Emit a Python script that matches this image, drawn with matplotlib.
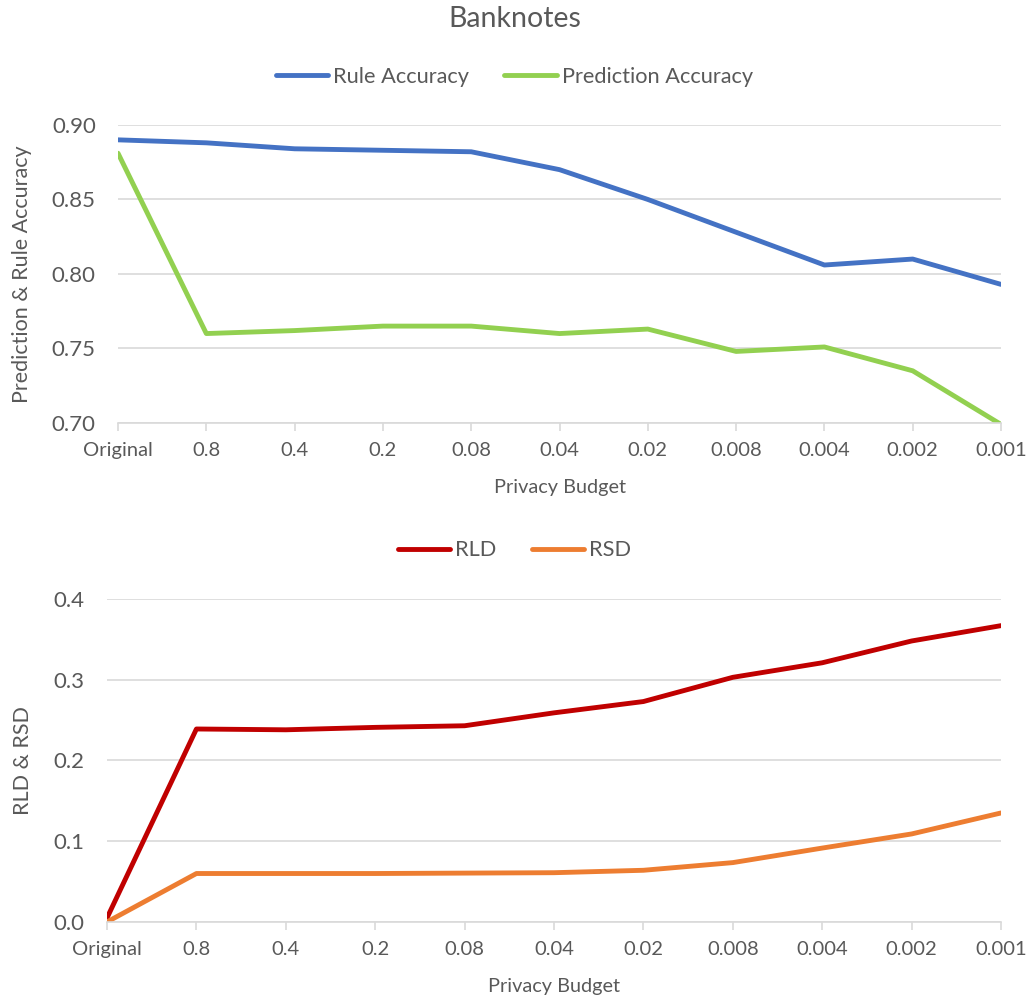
import matplotlib.pyplot as plt

plt.rcParams['font.family'] = ['Lato', 'DejaVu Sans']
plt.rcParams['text.color'] = '#595959'

budgets = ['Original', '0.8', '0.4', '0.2', '0.08', '0.04', '0.02', '0.008', '0.004', '0.002', '0.001']
rule_acc = [0.890, 0.888, 0.884, 0.883, 0.882, 0.870, 0.850, 0.828, 0.806, 0.810, 0.793]
pred_acc = [0.881, 0.760, 0.762, 0.765, 0.765, 0.760, 0.763, 0.748, 0.751, 0.735, 0.699]
rld = [0.005, 0.239, 0.238, 0.241, 0.243, 0.259, 0.273, 0.303, 0.321, 0.348, 0.367]
rsd = [0.000, 0.060, 0.060, 0.060, 0.0605, 0.061, 0.064, 0.0735, 0.0915, 0.109, 0.135]

grey = '#595959'
grid_c = '#d9d9d9'


def style(ax, ylo, yhi, step, fmt):
    x = range(len(budgets))
    ax.set_xlim(0, len(budgets) - 1)
    ax.set_ylim(ylo, yhi)
    ax.set_xticks(list(x))
    ax.set_xticklabels(budgets, fontsize=14.5, color=grey)
    ticks = []
    v = ylo
    while v <= yhi + 1e-9:
        ticks.append(round(v, 4))
        v += step
    ax.set_yticks(ticks)
    ax.set_yticklabels([fmt.format(t) for t in ticks], fontsize=16, color=grey)
    ax.grid(axis='y', color=grid_c, lw=1.2)
    ax.set_axisbelow(True)
    for s in ['top', 'right', 'left']:
        ax.spines[s].set_visible(False)
    ax.spines['bottom'].set_color(grid_c)
    ax.spines['bottom'].set_linewidth(1.2)
    ax.tick_params(axis='y', length=0, pad=16)
    ax.tick_params(axis='x', length=6, color=grid_c, width=1.2, pad=8)
    ax.set_xlabel('Privacy Budget', fontsize=14.3, color=grey, labelpad=14)


fig = plt.figure(figsize=(10.29, 9.98), dpi=100)

ax1 = fig.add_axes([0.1147, 0.5762, 0.8581, 0.2986])
x = range(len(budgets))
ax1.plot(x, rule_acc, color='#4472C4', lw=3.5, label='Rule Accuracy', solid_capstyle='round')
ax1.plot(x, pred_acc, color='#92D050', lw=3.5, label='Prediction Accuracy', solid_capstyle='round')
style(ax1, 0.70, 0.90, 0.05, '{:.2f}')
ax1.set_ylabel('Prediction & Rule Accuracy', fontsize=15.5, color=grey)
ax1.yaxis.set_label_coords(-0.0974, 0.5)
ax1.legend(loc='center', bbox_to_anchor=(0.5, 0.923), bbox_transform=fig.transFigure,
           ncol=2, frameon=False, fontsize=15.7, handlelength=2.4, columnspacing=1.6, handletextpad=0.25)
fig.text(0.5, 0.981, 'Banknotes', ha='center', va='center', fontsize=20.5, color=grey)

ax2 = fig.add_axes([0.104, 0.0762, 0.8688, 0.3236])
ax2.plot(x, rld, color='#C00000', lw=3.5, label='RLD', solid_capstyle='round')
ax2.plot(x, rsd, color='#ED7D31', lw=3.5, label='RSD', solid_capstyle='round')
style(ax2, 0.0, 0.4, 0.1, '{:.1f}')
ax2.set_ylabel('RLD & RSD', fontsize=15.5, color=grey)
ax2.yaxis.set_label_coords(-0.0828, 0.5)
ax2.legend(loc='center', bbox_to_anchor=(0.5, 0.4485), bbox_transform=fig.transFigure,
           ncol=2, frameon=False, fontsize=15.7, handlelength=2.4, columnspacing=1.6, handletextpad=0.25)

fig.savefig('out.png', dpi=100)
